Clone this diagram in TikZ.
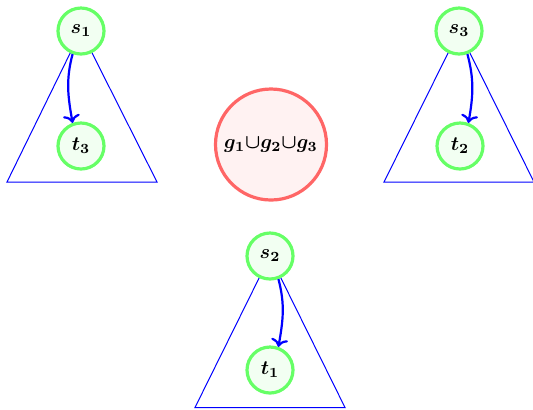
\documentclass[tikz,border=0pt]{standalone}
\usetikzlibrary{arrows.meta}
\begin{document}
\boldmath
\begin{tikzpicture}[x=0.5pt,y=-0.5pt,
  vnode/.style={circle,draw=green!60,fill=green!5,line width=1.6pt,minimum size=23pt,inner sep=0pt},
  gnode/.style={circle,draw=red!60,fill=red!5,line width=1.6pt,minimum size=55.5pt,inner sep=0pt},
  tri/.style={draw=blue,line width=0.5pt},
  edge/.style={draw=blue,line width=1.1pt,->}]
\useasboundingbox (0,0) rectangle (533,409);
\coordinate (c1) at (81,31);
\coordinate (c3) at (459,31);
\coordinate (c2) at (270,256);
\draw[tri] (c1) -- (7,182) -- (157,182) -- cycle;
\draw[tri] (c3) -- (384,182) -- (534,182) -- cycle;
\draw[tri] (c2) -- (195,407.5) -- (345,407.5) -- cycle;
\node[vnode] (s1) at (c1) {$s_1$};
\node[vnode] (t3) at (81,146) {$t_3$};
\node[vnode] (s3) at (c3) {$s_3$};
\node[vnode] (t2) at (460,146) {$t_2$};
\node[vnode] (s2) at (c2) {$s_2$};
\node[vnode] (t1) at (270,370) {$t_1$};
\node[gnode] (g) at (271,144.5) {$g_1{\cup}g_2{\cup}g_3$};
\draw[edge] (s1.250) to[out=255,in=100] (t3.110);
\draw[edge] (s3.290) to[out=285,in=80] (t2.70);
\draw[edge] (s2.290) to[out=285,in=80] (t1.70);
\end{tikzpicture}
\end{document}
